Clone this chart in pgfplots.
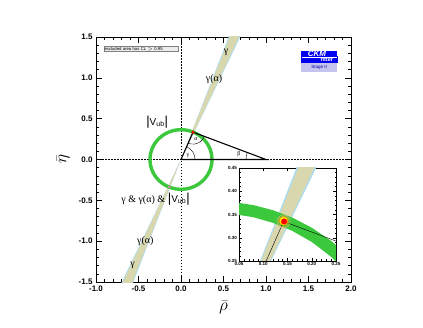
\documentclass[border=0pt]{standalone}
\usepackage{fontspec}
\setmainfont{Liberation Sans}
\newfontfamily\grk{Liberation Serif}
\usepackage{pgfplots}
\pgfplotsset{compat=1.18}
\definecolor{vubgreen}{HTML}{3CC83C}
\definecolor{bandbeige}{HTML}{D9D7AE}
\definecolor{bandcyan}{HTML}{A9DCF2}
\definecolor{ckmblue}{HTML}{0000F0}
\definecolor{ckmlav}{HTML}{C4C4EE}
\newcommand{\vub}{{\fontsize{13}{13}\selectfont|}V\textsubscript{ub}{\fontsize{13}{13}\selectfont|}}

\begin{document}
\begin{tikzpicture}
\path[use as bounding box] (0,0) rectangle (423pt,327pt);

% main rho-eta plane
\begin{axis}[
    at={(96pt,45pt)}, anchor=south west,
    scale only axis, width=255pt, height=245pt,
    xmin=-1, xmax=2, ymin=-1.5, ymax=1.5,
    xtick={-1,-0.5,0,0.5,1,1.5,2},
    ytick={-1.5,-1,-0.5,0,0.5,1,1.5},
    minor x tick num=4, minor y tick num=4,
    tick align=inside, major tick length=6pt, minor tick length=3pt,
    tick style={black, line width=0.6pt},
    axis line style={line width=0.8pt},
    /pgf/number format/.cd, fixed, fixed zerofill, precision=1, assume math mode=true, /pgfplots/.cd,
    ticklabel style={font=\bfseries\fontsize{8}{9}\selectfont},
    xlabel={$\bar{\rho}$}, ylabel={$\bar{\eta}$},
    label style={font=\fontsize{16}{16}\selectfont},
    xlabel style={yshift=-3pt}, ylabel style={yshift=2pt},
]
\addplot[fill=bandcyan, draw=none] coordinates {
    (0,0) (0.743,1.6) (0.598,1.6) (0,0) (-0.598,-1.6) (-0.743,-1.6) (0,0)};
\addplot[fill=bandbeige, draw=none] coordinates {
    (0,0) (0.729,1.6) (0.611,1.6) (0,0) (-0.611,-1.6) (-0.729,-1.6) (0,0)};
\addplot[black, line width=0.35pt, dash pattern=on 1.5pt off 1.5pt] coordinates {(-1,0) (2,0)};
\addplot[black, line width=0.35pt, dash pattern=on 1.5pt off 1.5pt] coordinates {(0,-1.5) (0,1.5)};
% |Vub| ring
\addplot[vubgreen, line width=3.4pt, smooth] coordinates {
    (0.365,0) (0.3595,0.0634) (0.3430,0.1248) (0.3161,0.1825) (0.2796,0.2346)
    (0.2346,0.2796) (0.1825,0.3161) (0.1248,0.3430) (0.0634,0.3595) (0,0.365)
    (-0.0634,0.3595) (-0.1248,0.3430) (-0.1825,0.3161) (-0.2346,0.2796) (-0.2796,0.2346)
    (-0.3161,0.1825) (-0.3430,0.1248) (-0.3595,0.0634) (-0.365,0)
    (-0.3595,-0.0634) (-0.3430,-0.1248) (-0.3161,-0.1825) (-0.2796,-0.2346) (-0.2346,-0.2796)
    (-0.1825,-0.3161) (-0.1248,-0.3430) (-0.0634,-0.3595) (0,-0.365)
    (0.0634,-0.3595) (0.1248,-0.3430) (0.1825,-0.3161) (0.2346,-0.2796) (0.2796,-0.2346)
    (0.3161,-0.1825) (0.3430,-0.1248) (0.3595,-0.0634) (0.365,0) (0.3595,0.0634)};
% unitarity triangle
\addplot[black, line width=1.1pt] coordinates {(0,0) (1,0) (0.142,0.335) (0,0)};
\addplot[only marks, mark=*, mark size=1.5pt, red] coordinates {(0.142,0.335)};
\addplot[only marks, mark=*, mark size=1pt, magenta!50, draw=magenta!50] coordinates {(-0.135,-0.335)};
\draw[line width=0.4pt] (axis cs:0,0) ++(0:14pt) arc[start angle=0, end angle=66, radius=14pt];
\draw[line width=0.4pt] (axis cs:0.142,0.335) ++(246:12pt) arc[start angle=246, end angle=339, radius=12pt];
\draw[line width=0.4pt] (axis cs:1,0) ++(180:20pt) arc[start angle=180, end angle=159, radius=20pt];
\node[font=\grk\fontsize{6}{6}\selectfont] at ([shift={(7pt,4pt)}]axis cs:0,0) {γ};
\node[font=\grk\fontsize{6}{6}\selectfont] at ([shift={(3pt,-7pt)}]axis cs:0.142,0.335) {α};
\node[font=\grk\fontsize{6}{6}\selectfont] at ([shift={(-27pt,5pt)}]axis cs:1,0) {β};
% labels
\node[font=\grk\fontsize{10}{10}\selectfont] at (axis cs:0.53,1.31) {γ};
\node[font=\grk\fontsize{10}{10}\selectfont] at (axis cs:0.39,0.98) {γ(α)};
\node[font=\fontsize{10}{10}\selectfont] at (axis cs:-0.28,0.46) {\vub};
\node[font=\fontsize{10}{10}\selectfont] at (axis cs:-0.30,-0.48) {{\grk γ \& γ(α) \&} \vub};
\node[font=\grk\fontsize{10}{10}\selectfont] at (axis cs:-0.42,-1.0) {γ(α)};
\node[font=\grk\fontsize{10}{10}\selectfont] at (axis cs:-0.57,-1.29) {γ};
\node[draw=gray, fill=gray!15, anchor=north west, font=\fontsize{4.2}{4.5}\selectfont,
      inner sep=0.8pt, text width=73pt, minimum height=5pt, align=left]
      at (axis cs:-0.91,1.39) {excluded area has CL $>$ 0.95};
% logo
\fill[ckmblue] (axis cs:1.41,1.264) rectangle (axis cs:1.84,1.329);
\node[white, font=\bfseries\itshape\fontsize{8}{8}\selectfont] at (axis cs:1.6,1.297) {CKM};
\draw[ckmblue, fill=white, line width=0.5pt] (axis cs:1.41,1.195) rectangle (axis cs:1.84,1.264);
\fill[ckmblue] (axis cs:1.41,1.195) rectangle (axis cs:1.84,1.238);
\node[white, font=\bfseries\fontsize{5.5}{5.5}\selectfont, anchor=east] at (axis cs:1.83,1.222) {fitter};
\fill[ckmlav] (axis cs:1.41,1.072) rectangle (axis cs:1.84,1.187);
\node[ckmblue!70!black, font=\fontsize{4.5}{5}\selectfont] at (axis cs:1.625,1.13) {Stage II};
\end{axis}

% zoomed inset
\begin{axis}[
    at={(239pt,66pt)}, anchor=south west,
    scale only axis, width=97pt, height=93pt,
    xmin=0.05, xmax=0.25, ymin=0.25, ymax=0.45,
    xtick={0.05,0.10,0.15,0.20,0.25},
    ytick={0.25,0.30,0.35,0.40,0.45},
    minor x tick num=4, minor y tick num=4,
    tick align=inside, major tick length=3pt, minor tick length=1.5pt,
    tick style={black, line width=0.4pt},
    axis line style={line width=0.5pt},
    axis background/.style={fill=white},
    /pgf/number format/.cd, fixed, fixed zerofill, precision=2, assume math mode=true, /pgfplots/.cd,
    ticklabel style={font=\bfseries\fontsize{4.5}{5}\selectfont},
    xticklabel style={yshift=2pt}, yticklabel style={xshift=1.5pt},
]
\addplot[fill=bandcyan, draw=none] coordinates {(0,0) (0.232,0.5) (0.187,0.5) (0,0)};
\addplot[fill=bandbeige, draw=none] coordinates {(0,0) (0.228,0.5) (0.191,0.5) (0,0)};
\addplot[fill=vubgreen, draw=none] coordinates {
    (0.04,0.3765) (0.08,0.3701) (0.12,0.3592) (0.16,0.3433) (0.20,0.3217) (0.24,0.2932) (0.26,0.2757)
    (0.26,0.2390) (0.24,0.2590) (0.20,0.2910) (0.16,0.3148) (0.12,0.3321) (0.08,0.3440) (0.04,0.3509)};
\addplot[only marks, mark=o, mark size=6.6pt, orange!55, line width=0.3pt] coordinates {(0.142,0.335)};
\addplot[only marks, mark=o, mark size=5.6pt, orange!75, line width=0.3pt] coordinates {(0.142,0.335)};
\addplot[only marks, mark=*, mark size=4.4pt, yellow, draw=orange] coordinates {(0.142,0.336)};
\addplot[only marks, mark=*, mark size=2.8pt, red, draw=red] coordinates {(0.143,0.335)};
\addplot[black, line width=0.4pt] coordinates {(0,0) (0.142,0.335) (1,0)};
\end{axis}
\end{tikzpicture}
\end{document}
